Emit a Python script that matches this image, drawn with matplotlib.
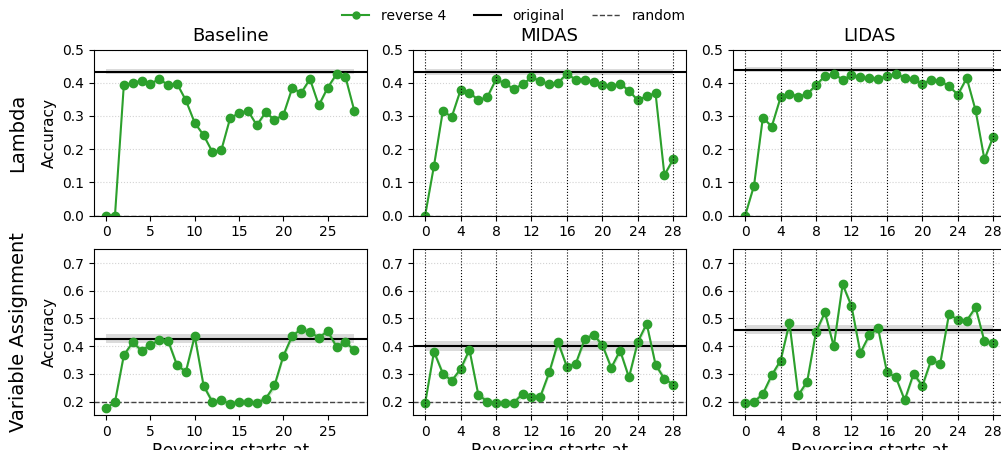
import numpy as np
import matplotlib
matplotlib.use("Agg")
import matplotlib.pyplot as plt
from matplotlib.lines import Line2D

steps = np.arange(29)
methods = ["Baseline", "MIDAS", "LIDAS"]
tasks = ["Lambda", "Variable Assignment"]

# Lambda
lambda_baseline = [0.0, 0.0, 0.393, 0.399, 0.406, 0.397, 0.411, 0.393, 0.397, 0.347,
                   0.279, 0.242, 0.191, 0.197, 0.294, 0.308, 0.316, 0.272, 0.311, 0.288,
                   0.303, 0.384, 0.369, 0.411, 0.332, 0.385, 0.426, 0.418, 0.316]
lambda_midas = [0.0, 0.150, 0.315, 0.297, 0.378, 0.370, 0.348, 0.356, 0.410, 0.398,
                0.381, 0.395, 0.416, 0.405, 0.395, 0.400, 0.427, 0.409, 0.409, 0.402,
                0.393, 0.390, 0.397, 0.376, 0.347, 0.360, 0.368, 0.122, 0.170]
lambda_lidas = [0.0, 0.090, 0.295, 0.268, 0.356, 0.367, 0.358, 0.366, 0.393, 0.420,
                0.427, 0.409, 0.422, 0.416, 0.413, 0.412, 0.419, 0.427, 0.415, 0.410,
                0.397, 0.409, 0.405, 0.390, 0.364, 0.414, 0.317, 0.169, 0.238]

# Variable Assignment
va_baseline = [0.175, 0.198, 0.367, 0.414, 0.384, 0.404, 0.422, 0.419, 0.331, 0.308,
               0.437, 0.257, 0.198, 0.204, 0.192, 0.199, 0.199, 0.196, 0.210, 0.258,
               0.365, 0.437, 0.461, 0.451, 0.431, 0.454, 0.398, 0.414, 0.386]
va_midas = [0.194, 0.380, 0.301, 0.275, 0.317, 0.387, 0.225, 0.200, 0.195, 0.196,
            0.196, 0.228, 0.218, 0.218, 0.305, 0.414, 0.325, 0.337, 0.425, 0.442,
            0.404, 0.322, 0.384, 0.287, 0.416, 0.481, 0.333, 0.282, 0.261]
va_lidas = [0.196, 0.198, 0.228, 0.295, 0.348, 0.484, 0.223, 0.272, 0.452, 0.522,
            0.399, 0.623, 0.545, 0.376, 0.439, 0.465, 0.306, 0.288, 0.205, 0.300,
            0.257, 0.351, 0.335, 0.516, 0.495, 0.492, 0.540, 0.417, 0.413]

reverse = [[lambda_baseline, lambda_midas, lambda_lidas],
           [va_baseline, va_midas, va_lidas]]
reverse_std = [0.006, 0.012]

original = [[0.433, 0.432, 0.439], [0.427, 0.400, 0.460]]
original_std = [0.008, 0.017]
random_acc = [0.0, 0.2]

ylims = [(0.0, 0.5), (0.15, 0.75)]
yticks = [np.arange(0, 0.51, 0.1), np.arange(0.2, 0.71, 0.1)]

green = "tab:green"
fig = plt.figure(figsize=(10.01, 4.5), dpi=100)

lefts = [0.0936, 0.4123, 0.732]
bottoms = [0.521, 0.077]
w, h = 0.2727, 0.369

for r in range(2):
    for c in range(3):
        ax = fig.add_axes([lefts[c], bottoms[r], w, h])
        y = np.array(reverse[r][c])
        ax.fill_between(steps, original[r][c] - original_std[r], original[r][c] + original_std[r],
                        color="lightgray", alpha=0.8, lw=0)
        ax.axhline(original[r][c], color="black", lw=1.5)
        ax.axhline(random_acc[r], color="#444444", ls="--", lw=1)
        ax.fill_between(steps, y - reverse_std[r], y + reverse_std[r], color=green, alpha=0.2, lw=0)
        ax.plot(steps, y, "-o", color=green, ms=6, lw=1.5)
        ax.set_ylim(*ylims[r])
        ax.set_yticks(yticks[r])
        ax.grid(axis="y", ls=":", color="lightgray", lw=0.8)
        if c == 0:
            ax.set_xticks([0, 5, 10, 15, 20, 25])
            ax.set_ylabel("Accuracy", fontsize=11)
        else:
            ax.set_xticks(np.arange(0, 29, 4))
            for xv in np.arange(0, 29, 4):
                ax.axvline(xv, color="black", ls=":", lw=0.8)
        ax.set_xlim(-1.4, 29.4)
        ax.tick_params(labelsize=10)
        if r == 0:
            ax.set_title(methods[c], fontsize=13)
        else:
            ax.set_xlabel("Reversing starts at", fontsize=12, labelpad=2)

fig.text(0.018, 0.705, tasks[0], rotation=90, ha="center", va="center", fontsize=14)
fig.text(0.018, 0.262, tasks[1], rotation=90, ha="center", va="center", fontsize=14)

handles = [Line2D([], [], color=green, marker="o", ms=5, lw=1.5),
           Line2D([], [], color="black", lw=1.5),
           Line2D([], [], color="#444444", ls="--", lw=1)]
fig.legend(handles, ["reverse 4", "original", "random"], loc="center", ncol=3,
           bbox_to_anchor=(0.513, 0.964), frameon=False, fontsize=10)

fig.savefig("out.png", dpi=100)
